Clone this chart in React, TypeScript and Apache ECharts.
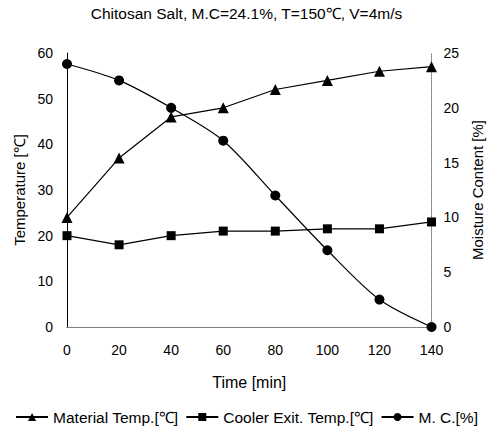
import React, { useEffect, useRef } from "react";
import * as echarts from "echarts";

const timeLabels = ["0", "20", "40", "60", "80", "100", "120", "140"];
const materialTemp = [24, 37, 46, 48, 52, 54, 56, 57];
const coolerExitTemp = [20, 18, 20, 21, 21, 21.5, 21.5, 23];
const moistureContent = [24, 22.5, 20, 17, 12, 7, 2.5, 0];

const FONT = "'Liberation Sans', Arial, sans-serif";

export default function App() {
  const ref = useRef<HTMLDivElement>(null);
  useEffect(() => {
    if (!ref.current) return;
    const chart = echarts.init(ref.current, undefined, { renderer: "svg" });
    const axisText = { color: "#000", fontSize: 14, fontFamily: FONT };
    const nameText = { color: "#000", fontSize: 15, fontFamily: FONT };
    chart.setOption({
      animation: false,
      backgroundColor: "#fff",
      title: {
        text: "Chitosan Salt, M.C=24.1%, T=150℃, V=4m/s",
        left: "center",
        top: 0,
        textStyle: { color: "#000", fontSize: 15.5, fontWeight: "normal", fontFamily: FONT },
      },
      grid: { left: 67, right: 60, top: 53, bottom: 101, containLabel: false },
      legend: {
        top: 404,
        left: "center",
        itemWidth: 32,
        itemHeight: 10,
        itemGap: 7,
        textStyle: { color: "#000", fontSize: 15.5, fontFamily: FONT },
        data: ["Material Temp.[℃]", "Cooler Exit. Temp.[℃]", "M. C.[%]"],
      },
      xAxis: [
        {
          type: "category",
          data: timeLabels,
          boundaryGap: false,
          name: "Time [min]",
          nameLocation: "middle",
          nameGap: 47,
          nameTextStyle: { ...nameText, fontSize: 16 },
          axisLine: { lineStyle: { color: "#777", type: "dotted", width: 1 } },
          axisTick: { show: false },
          axisLabel: { ...axisText, margin: 16 },
          splitLine: { show: false },
        },
        {
          type: "category",
          data: timeLabels,
          boundaryGap: false,
          position: "top",
          axisLine: { lineStyle: { color: "#777", type: "dotted", width: 1 } },
          axisTick: { show: false },
          axisLabel: { show: false },
          splitLine: { show: false },
        },
      ],
      yAxis: [
        {
          type: "value",
          min: 0,
          max: 60,
          interval: 10,
          name: "Temperature [℃]",
          nameLocation: "middle",
          nameGap: 30,
          nameTextStyle: nameText,
          axisLine: { show: true, lineStyle: { color: "#000", width: 1 } },
          axisTick: { show: false },
          axisLabel: { ...axisText, margin: 14 },
          splitLine: { show: false },
        },
        {
          type: "value",
          min: 0,
          max: 25,
          interval: 5,
          position: "right",
          name: "Moisture Content [%]",
          nameLocation: "middle",
          nameGap: 22,
          nameRotate: 90,
          nameTextStyle: nameText,
          axisLine: { show: true, lineStyle: { color: "#777", type: "dotted", width: 1 } },
          axisTick: { show: false },
          axisLabel: { ...axisText, margin: 12 },
          splitLine: { show: false },
        },
      ],
      series: [
        {
          name: "Material Temp.[℃]",
          type: "line",
          data: materialTemp,
          yAxisIndex: 0,
          symbol: "triangle",
          symbolSize: 11,
          itemStyle: { color: "#000" },
          lineStyle: { color: "#000", width: 1.2 },
        },
        {
          name: "Cooler Exit. Temp.[℃]",
          type: "line",
          data: coolerExitTemp,
          yAxisIndex: 0,
          symbol: "rect",
          symbolSize: 9,
          itemStyle: { color: "#000" },
          lineStyle: { color: "#000", width: 1.2 },
        },
        {
          name: "M. C.[%]",
          type: "line",
          data: moistureContent,
          yAxisIndex: 1,
          symbol: "circle",
          symbolSize: 10,
          smooth: 0.3,
          itemStyle: { color: "#000" },
          lineStyle: { color: "#000", width: 1.2 },
        },
      ],
    });
    return () => chart.dispose();
  }, []);
  return <div ref={ref} style={{ width: 493, height: 428, position: "absolute", left: 0, top: 0 }} />;
}
